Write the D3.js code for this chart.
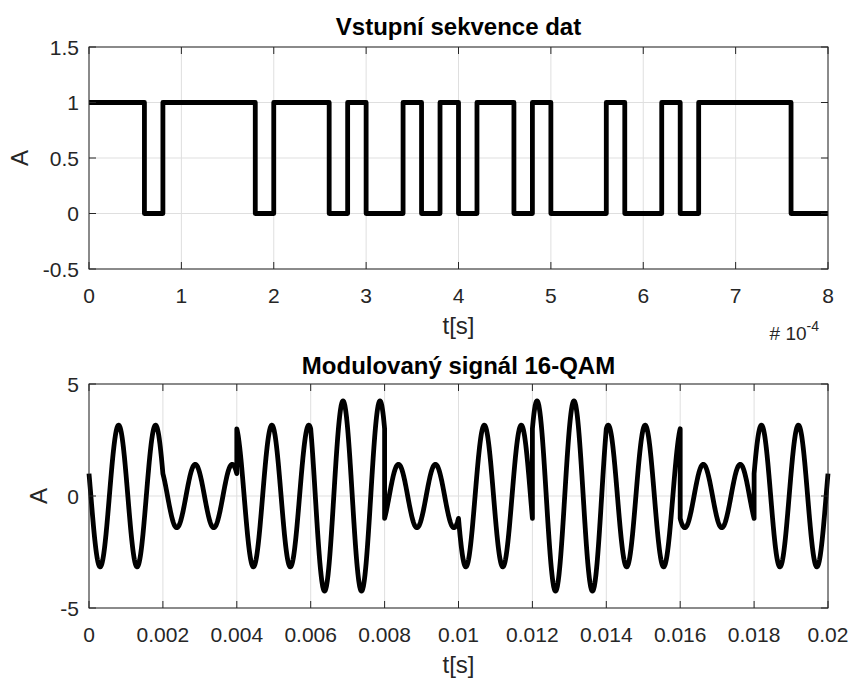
<!DOCTYPE html>
<html>
<head>
<meta charset="utf-8">
<script src="https://cdn.jsdelivr.net/npm/d3@7"></script>
<style>
  body { margin: 0; background: #fff; }
  text { font-family: "Liberation Sans", Arial, sans-serif; fill: #262626; }
</style>
</head>
<body>
<div id="chart"></div>
<script>
// input bits (top plot), one bit every 2e-5 s
const bits = [1,1,1,0, 1,1,1,1, 1,0,1,1, 1,0,1,0, 0,1,0,1,
              0,1,1,0, 1,0,0,0, 1,0,0,1, 0,1,1,1, 1,1,0,0];
const bitTime = 2e-5;

// 16-QAM symbols (I and Q levels)
const symI = [1, 1, 3, 3, -1, -1, 3, 3, -1, 1];
const symQ = [3, 1, 1, 3, -1, 3, -3, -1, 1, -3];
const symbolTime = 0.002;
const carrierFreq = 1000;

const topXTicks = [0, 1e-4, 2e-4, 3e-4, 4e-4, 5e-4, 6e-4, 7e-4, 8e-4];
const topYTicks = [-0.5, 0, 0.5, 1, 1.5];
const botXTicks = [0, 0.002, 0.004, 0.006, 0.008, 0.01, 0.012, 0.014, 0.016, 0.018, 0.02];
const botYTicks = [-5, 0, 5];

const W = 850, H = 679;
const svg = d3.select("#chart").append("svg")
    .attr("width", W).attr("height", H)
    .style("background", "#fff");

const left = 89, right = 828;
const tickFont = 21, labelFont = 24;

function drawAxes(g, x, y, xTicks, yTicks) {
    const [x0, x1] = x.range();
    const [y0, y1] = y.range(); // y0 bottom, y1 top

    // grid
    g.selectAll(".gx").data(xTicks).enter().append("line")
        .attr("x1", d => x(d)).attr("x2", d => x(d))
        .attr("y1", y1).attr("y2", y0)
        .attr("stroke", "#dfdfdf").attr("stroke-width", 1);
    g.selectAll(".gy").data(yTicks).enter().append("line")
        .attr("x1", x0).attr("x2", x1)
        .attr("y1", d => y(d)).attr("y2", d => y(d))
        .attr("stroke", "#dfdfdf").attr("stroke-width", 1);
}

function drawFrame(g, x, y, xTicks, yTicks, xFmt, yFmt, opts) {
    const [x0, x1] = x.range();
    const [y0, y1] = y.range();
    const tl = 7;
    const col = "#262626";

    // inward ticks on all four sides
    xTicks.forEach(d => {
        g.append("line").attr("x1", x(d)).attr("x2", x(d)).attr("y1", y0).attr("y2", y0 - tl)
            .attr("stroke", col);
        g.append("line").attr("x1", x(d)).attr("x2", x(d)).attr("y1", y1).attr("y2", y1 + tl)
            .attr("stroke", col);
    });
    yTicks.forEach(d => {
        g.append("line").attr("x1", x0).attr("x2", x0 + tl).attr("y1", y(d)).attr("y2", y(d))
            .attr("stroke", col);
        g.append("line").attr("x1", x1).attr("x2", x1 - tl).attr("y1", y(d)).attr("y2", y(d))
            .attr("stroke", col);
    });

    g.append("rect")
        .attr("x", x0).attr("y", y1)
        .attr("width", x1 - x0).attr("height", y0 - y1)
        .attr("fill", "none").attr("stroke", col).attr("stroke-width", 1);

    // tick labels
    g.selectAll(".xl").data(xTicks).enter().append("text")
        .attr("x", d => x(d)).attr("y", y0 + 33.5)
        .attr("text-anchor", "middle")
        .style("font-size", tickFont + "px")
        .text(xFmt);
    g.selectAll(".yl").data(yTicks).enter().append("text")
        .attr("x", x0 - 10).attr("y", d => y(d) + 7.5)
        .attr("text-anchor", "end")
        .style("font-size", tickFont + "px")
        .text(yFmt);

    // x label, y label, title
    g.append("text")
        .attr("x", (x0 + x1) / 2).attr("y", y0 + opts.xLabelDy)
        .attr("text-anchor", "middle")
        .style("font-size", labelFont + "px")
        .text("t[s]");
    g.append("text")
        .attr("transform", "translate(" + opts.yLabelX + "," + (y0 + y1) / 2 + ") rotate(-90)")
        .attr("text-anchor", "middle")
        .style("font-size", labelFont + "px")
        .text("A");
    g.append("text")
        .attr("x", (x0 + x1) / 2).attr("y", opts.titleY)
        .attr("text-anchor", "middle")
        .style("font-size", labelFont + "px")
        .style("font-weight", "bold")
        .style("fill", "#000")
        .text(opts.title);
}

// ---------- top: input bits ----------
const xTop = d3.scaleLinear().domain([0, 8e-4]).range([left, right]);
const yTop = d3.scaleLinear().domain([-0.5, 1.5]).range([269, 47]);
const gTop = svg.append("g");

drawAxes(gTop, xTop, yTop, topXTicks, topYTicks);

const stepData = bits.map((b, i) => [i * bitTime, b]);
stepData.push([bits.length * bitTime, bits[bits.length - 1]]);

gTop.append("path")
    .datum(stepData)
    .attr("d", d3.line()
        .x(d => xTop(d[0]))
        .y(d => yTop(d[1]))
        .curve(d3.curveStepAfter))
    .attr("fill", "none")
    .attr("stroke", "#000")
    .attr("stroke-width", 4.8)
    .attr("stroke-linejoin", "round");

drawFrame(gTop, xTop, yTop, topXTicks, topYTicks,
    d => d3.format("d")(Math.round(d / 1e-4)),
    d => d === 0 ? "0" : String(d),
    { xLabelDy: 65, yLabelX: 27.5, titleY: 35, title: "Vstupní sekvence dat" });

// exponent note
const expo = gTop.append("text")
    .attr("x", 819).attr("y", 340)
    .attr("text-anchor", "end")
    .style("font-size", "19px");
expo.append("tspan").text("# 10");
expo.append("tspan").attr("dy", -9).style("font-size", "14px").text("-4");

// ---------- bottom: 16-QAM signal ----------
const xBot = d3.scaleLinear().domain([0, 0.02]).range([left, right]);
const yBot = d3.scaleLinear().domain([-5, 5]).range([608, 384]);
const gBot = svg.append("g");

drawAxes(gBot, xBot, yBot, botXTicks, botYTicks);

const perSymbol = 200;
const sig = [];
symI.forEach((I, k) => {
    const Q = symQ[k];
    for (let j = 0; j <= perSymbol; j++) {
        const t = k * symbolTime + j * symbolTime / perSymbol;
        const w = 2 * Math.PI * carrierFreq * t;
        sig.push([t, I * Math.cos(w) - Q * Math.sin(w)]);
    }
});

gBot.append("path")
    .datum(sig)
    .attr("d", d3.line().x(d => xBot(d[0])).y(d => yBot(d[1])))
    .attr("fill", "none")
    .attr("stroke", "#000")
    .attr("stroke-width", 4.8)
    .attr("stroke-linejoin", "round");

drawFrame(gBot, xBot, yBot, botXTicks, botYTicks,
    d => d === 0 ? "0" : String(+d.toFixed(3)),
    d => String(d),
    { xLabelDy: 65, yLabelX: 47, titleY: 374, title: "Modulovaný signál 16-QAM" });
</script>
</body>
</html>
